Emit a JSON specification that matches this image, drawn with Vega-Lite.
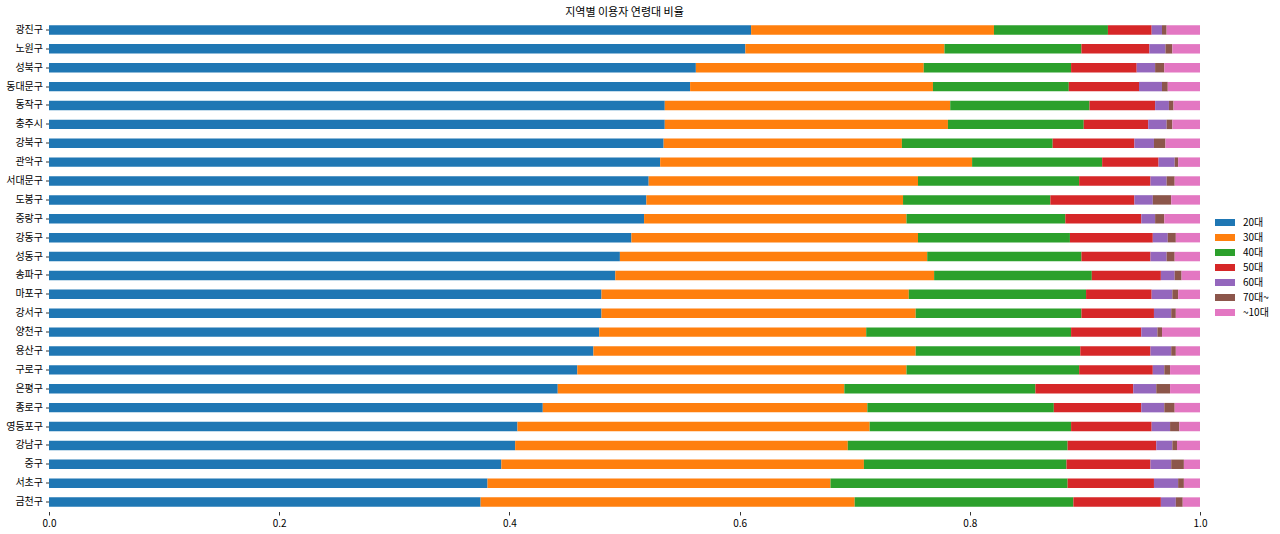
{
  "$schema": "https://vega.github.io/schema/vega-lite/v6.json",
  "autosize": "none",
  "padding": {"left": 49, "top": 20.5, "right": 80, "bottom": 22},
  "width": 1151,
  "height": 491,
  "background": "white",
  "title": {"text": "지역별 이용자 연령대 비율", "font": "Noto Sans CJK KR", "fontSize": 11, "fontWeight": "normal", "color": "#000000", "offset": 3},
  "config": {
    "view": {"stroke": null},
    "font": "Noto Sans CJK KR"
  },
  "data": {"values": [
    {"지역": "광진구", "연령대": "20대", "비율": 0.610}, {"지역": "광진구", "연령대": "30대", "비율": 0.211}, {"지역": "광진구", "연령대": "40대", "비율": 0.099}, {"지역": "광진구", "연령대": "50대", "비율": 0.038}, {"지역": "광진구", "연령대": "60대", "비율": 0.009}, {"지역": "광진구", "연령대": "70대~", "비율": 0.004}, {"지역": "광진구", "연령대": "~10대", "비율": 0.029},
    {"지역": "노원구", "연령대": "20대", "비율": 0.605}, {"지역": "노원구", "연령대": "30대", "비율": 0.173}, {"지역": "노원구", "연령대": "40대", "비율": 0.119}, {"지역": "노원구", "연령대": "50대", "비율": 0.059}, {"지역": "노원구", "연령대": "60대", "비율": 0.014}, {"지역": "노원구", "연령대": "70대~", "비율": 0.006}, {"지역": "노원구", "연령대": "~10대", "비율": 0.024},
    {"지역": "성북구", "연령대": "20대", "비율": 0.562}, {"지역": "성북구", "연령대": "30대", "비율": 0.198}, {"지역": "성북구", "연령대": "40대", "비율": 0.128}, {"지역": "성북구", "연령대": "50대", "비율": 0.057}, {"지역": "성북구", "연령대": "60대", "비율": 0.016}, {"지역": "성북구", "연령대": "70대~", "비율": 0.008}, {"지역": "성북구", "연령대": "~10대", "비율": 0.031},
    {"지역": "동대문구", "연령대": "20대", "비율": 0.557}, {"지역": "동대문구", "연령대": "30대", "비율": 0.211}, {"지역": "동대문구", "연령대": "40대", "비율": 0.118}, {"지역": "동대문구", "연령대": "50대", "비율": 0.061}, {"지역": "동대문구", "연령대": "60대", "비율": 0.020}, {"지역": "동대문구", "연령대": "70대~", "비율": 0.005}, {"지역": "동대문구", "연령대": "~10대", "비율": 0.028},
    {"지역": "동작구", "연령대": "20대", "비율": 0.535}, {"지역": "동작구", "연령대": "30대", "비율": 0.248}, {"지역": "동작구", "연령대": "40대", "비율": 0.121}, {"지역": "동작구", "연령대": "50대", "비율": 0.057}, {"지역": "동작구", "연령대": "60대", "비율": 0.012}, {"지역": "동작구", "연령대": "70대~", "비율": 0.004}, {"지역": "동작구", "연령대": "~10대", "비율": 0.023},
    {"지역": "충주시", "연령대": "20대", "비율": 0.535}, {"지역": "충주시", "연령대": "30대", "비율": 0.246}, {"지역": "충주시", "연령대": "40대", "비율": 0.118}, {"지역": "충주시", "연령대": "50대", "비율": 0.056}, {"지역": "충주시", "연령대": "60대", "비율": 0.016}, {"지역": "충주시", "연령대": "70대~", "비율": 0.005}, {"지역": "충주시", "연령대": "~10대", "비율": 0.024},
    {"지역": "강북구", "연령대": "20대", "비율": 0.534}, {"지역": "강북구", "연령대": "30대", "비율": 0.207}, {"지역": "강북구", "연령대": "40대", "비율": 0.131}, {"지역": "강북구", "연령대": "50대", "비율": 0.071}, {"지역": "강북구", "연령대": "60대", "비율": 0.017}, {"지역": "강북구", "연령대": "70대~", "비율": 0.010}, {"지역": "강북구", "연령대": "~10대", "비율": 0.030},
    {"지역": "관악구", "연령대": "20대", "비율": 0.531}, {"지역": "관악구", "연령대": "30대", "비율": 0.271}, {"지역": "관악구", "연령대": "40대", "비율": 0.113}, {"지역": "관악구", "연령대": "50대", "비율": 0.049}, {"지역": "관악구", "연령대": "60대", "비율": 0.014}, {"지역": "관악구", "연령대": "70대~", "비율": 0.003}, {"지역": "관악구", "연령대": "~10대", "비율": 0.019},
    {"지역": "서대문구", "연령대": "20대", "비율": 0.521}, {"지역": "서대문구", "연령대": "30대", "비율": 0.234}, {"지역": "서대문구", "연령대": "40대", "비율": 0.140}, {"지역": "서대문구", "연령대": "50대", "비율": 0.062}, {"지역": "서대문구", "연령대": "60대", "비율": 0.014}, {"지역": "서대문구", "연령대": "70대~", "비율": 0.007}, {"지역": "서대문구", "연령대": "~10대", "비율": 0.022},
    {"지역": "도봉구", "연령대": "20대", "비율": 0.519}, {"지역": "도봉구", "연령대": "30대", "비율": 0.223}, {"지역": "도봉구", "연령대": "40대", "비율": 0.128}, {"지역": "도봉구", "연령대": "50대", "비율": 0.073}, {"지역": "도봉구", "연령대": "60대", "비율": 0.016}, {"지역": "도봉구", "연령대": "70대~", "비율": 0.016}, {"지역": "도봉구", "연령대": "~10대", "비율": 0.025},
    {"지역": "중랑구", "연령대": "20대", "비율": 0.517}, {"지역": "중랑구", "연령대": "30대", "비율": 0.228}, {"지역": "중랑구", "연령대": "40대", "비율": 0.138}, {"지역": "중랑구", "연령대": "50대", "비율": 0.066}, {"지역": "중랑구", "연령대": "60대", "비율": 0.012}, {"지역": "중랑구", "연령대": "70대~", "비율": 0.008}, {"지역": "중랑구", "연령대": "~10대", "비율": 0.031},
    {"지역": "강동구", "연령대": "20대", "비율": 0.506}, {"지역": "강동구", "연령대": "30대", "비율": 0.249}, {"지역": "강동구", "연령대": "40대", "비율": 0.132}, {"지역": "강동구", "연령대": "50대", "비율": 0.072}, {"지역": "강동구", "연령대": "60대", "비율": 0.013}, {"지역": "강동구", "연령대": "70대~", "비율": 0.007}, {"지역": "강동구", "연령대": "~10대", "비율": 0.021},
    {"지역": "성동구", "연령대": "20대", "비율": 0.496}, {"지역": "성동구", "연령대": "30대", "비율": 0.267}, {"지역": "성동구", "연령대": "40대", "비율": 0.134}, {"지역": "성동구", "연령대": "50대", "비율": 0.060}, {"지역": "성동구", "연령대": "60대", "비율": 0.014}, {"지역": "성동구", "연령대": "70대~", "비율": 0.007}, {"지역": "성동구", "연령대": "~10대", "비율": 0.022},
    {"지역": "송파구", "연령대": "20대", "비율": 0.492}, {"지역": "송파구", "연령대": "30대", "비율": 0.277}, {"지역": "송파구", "연령대": "40대", "비율": 0.137}, {"지역": "송파구", "연령대": "50대", "비율": 0.060}, {"지역": "송파구", "연령대": "60대", "비율": 0.012}, {"지역": "송파구", "연령대": "70대~", "비율": 0.006}, {"지역": "송파구", "연령대": "~10대", "비율": 0.016},
    {"지역": "마포구", "연령대": "20대", "비율": 0.480}, {"지역": "마포구", "연령대": "30대", "비율": 0.267}, {"지역": "마포구", "연령대": "40대", "비율": 0.154}, {"지역": "마포구", "연령대": "50대", "비율": 0.057}, {"지역": "마포구", "연령대": "60대", "비율": 0.018}, {"지역": "마포구", "연령대": "70대~", "비율": 0.005}, {"지역": "마포구", "연령대": "~10대", "비율": 0.019},
    {"지역": "강서구", "연령대": "20대", "비율": 0.480}, {"지역": "강서구", "연령대": "30대", "비율": 0.273}, {"지역": "강서구", "연령대": "40대", "비율": 0.144}, {"지역": "강서구", "연령대": "50대", "비율": 0.063}, {"지역": "강서구", "연령대": "60대", "비율": 0.015}, {"지역": "강서구", "연령대": "70대~", "비율": 0.004}, {"지역": "강서구", "연령대": "~10대", "비율": 0.021},
    {"지역": "양천구", "연령대": "20대", "비율": 0.478}, {"지역": "양천구", "연령대": "30대", "비율": 0.232}, {"지역": "양천구", "연령대": "40대", "비율": 0.178}, {"지역": "양천구", "연령대": "50대", "비율": 0.061}, {"지역": "양천구", "연령대": "60대", "비율": 0.014}, {"지역": "양천구", "연령대": "70대~", "비율": 0.004}, {"지역": "양천구", "연령대": "~10대", "비율": 0.033},
    {"지역": "용산구", "연령대": "20대", "비율": 0.473}, {"지역": "용산구", "연령대": "30대", "비율": 0.280}, {"지역": "용산구", "연령대": "40대", "비율": 0.143}, {"지역": "용산구", "연령대": "50대", "비율": 0.061}, {"지역": "용산구", "연령대": "60대", "비율": 0.018}, {"지역": "용산구", "연령대": "70대~", "비율": 0.004}, {"지역": "용산구", "연령대": "~10대", "비율": 0.021},
    {"지역": "구로구", "연령대": "20대", "비율": 0.459}, {"지역": "구로구", "연령대": "30대", "비율": 0.286}, {"지역": "구로구", "연령대": "40대", "비율": 0.150}, {"지역": "구로구", "연령대": "50대", "비율": 0.064}, {"지역": "구로구", "연령대": "60대", "비율": 0.010}, {"지역": "구로구", "연령대": "70대~", "비율": 0.005}, {"지역": "구로구", "연령대": "~10대", "비율": 0.026},
    {"지역": "은평구", "연령대": "20대", "비율": 0.442}, {"지역": "은평구", "연령대": "30대", "비율": 0.249}, {"지역": "은평구", "연령대": "40대", "비율": 0.166}, {"지역": "은평구", "연령대": "50대", "비율": 0.085}, {"지역": "은평구", "연령대": "60대", "비율": 0.020}, {"지역": "은평구", "연령대": "70대~", "비율": 0.012}, {"지역": "은평구", "연령대": "~10대", "비율": 0.026},
    {"지역": "종로구", "연령대": "20대", "비율": 0.429}, {"지역": "종로구", "연령대": "30대", "비율": 0.282}, {"지역": "종로구", "연령대": "40대", "비율": 0.162}, {"지역": "종로구", "연령대": "50대", "비율": 0.076}, {"지역": "종로구", "연령대": "60대", "비율": 0.020}, {"지역": "종로구", "연령대": "70대~", "비율": 0.009}, {"지역": "종로구", "연령대": "~10대", "비율": 0.022},
    {"지역": "영등포구", "연령대": "20대", "비율": 0.407}, {"지역": "영등포구", "연령대": "30대", "비율": 0.306}, {"지역": "영등포구", "연령대": "40대", "비율": 0.175}, {"지역": "영등포구", "연령대": "50대", "비율": 0.070}, {"지역": "영등포구", "연령대": "60대", "비율": 0.016}, {"지역": "영등포구", "연령대": "70대~", "비율": 0.008}, {"지역": "영등포구", "연령대": "~10대", "비율": 0.018},
    {"지역": "강남구", "연령대": "20대", "비율": 0.405}, {"지역": "강남구", "연령대": "30대", "비율": 0.289}, {"지역": "강남구", "연령대": "40대", "비율": 0.191}, {"지역": "강남구", "연령대": "50대", "비율": 0.077}, {"지역": "강남구", "연령대": "60대", "비율": 0.014}, {"지역": "강남구", "연령대": "70대~", "비율": 0.004}, {"지역": "강남구", "연령대": "~10대", "비율": 0.020},
    {"지역": "중구", "연령대": "20대", "비율": 0.393}, {"지역": "중구", "연령대": "30대", "비율": 0.315}, {"지역": "중구", "연령대": "40대", "비율": 0.176}, {"지역": "중구", "연령대": "50대", "비율": 0.073}, {"지역": "중구", "연령대": "60대", "비율": 0.018}, {"지역": "중구", "연령대": "70대~", "비율": 0.011}, {"지역": "중구", "연령대": "~10대", "비율": 0.014},
    {"지역": "서초구", "연령대": "20대", "비율": 0.381}, {"지역": "서초구", "연령대": "30대", "비율": 0.298}, {"지역": "서초구", "연령대": "40대", "비율": 0.206}, {"지역": "서초구", "연령대": "50대", "비율": 0.075}, {"지역": "서초구", "연령대": "60대", "비율": 0.021}, {"지역": "서초구", "연령대": "70대~", "비율": 0.005}, {"지역": "서초구", "연령대": "~10대", "비율": 0.014},
    {"지역": "금천구", "연령대": "20대", "비율": 0.375}, {"지역": "금천구", "연령대": "30대", "비율": 0.325}, {"지역": "금천구", "연령대": "40대", "비율": 0.190}, {"지역": "금천구", "연령대": "50대", "비율": 0.076}, {"지역": "금천구", "연령대": "60대", "비율": 0.013}, {"지역": "금천구", "연령대": "70대~", "비율": 0.006}, {"지역": "금천구", "연령대": "~10대", "비율": 0.015}
  ]},
  "mark": {"type": "bar"},
  "encoding": {
    "y": {
      "field": "지역", "type": "nominal", "sort": null,
      "scale": {"paddingInner": 0.5, "paddingOuter": 0.25},
      "axis": {"title": null, "domain": false, "ticks": true, "tickSize": 3.5, "tickColor": "#000000", "tickWidth": 0.8, "labelFontSize": 10, "labelColor": "#000000", "labelPadding": 3, "labelFont": "Noto Sans CJK KR", "grid": false}
    },
    "x": {
      "field": "비율", "type": "quantitative", "stack": "zero",
      "scale": {"domain": [0, 1], "nice": false, "zero": true},
      "axis": {"title": null, "domain": false, "grid": false, "values": [0, 0.2, 0.4, 0.6, 0.8, 1.0], "format": ".1f", "tickSize": 3.5, "tickColor": "#000000", "tickWidth": 0.8, "labelFontSize": 10, "labelColor": "#000000", "labelPadding": 3, "labelFont": "Noto Sans CJK KR", "labelFlush": false}
    },
    "color": {
      "field": "연령대", "type": "nominal",
      "scale": {"domain": ["20대", "30대", "40대", "50대", "60대", "70대~", "~10대"], "range": ["#1f77b4", "#ff7f0e", "#2ca02c", "#d62728", "#9467bd", "#8c564b", "#e377c2"]},
      "legend": {"title": null, "orient": "none", "legendX": 1166, "legendY": 192, "symbolType": "M-1,-0.35H1V0.35H-1Z", "symbolSize": 400, "symbolStrokeWidth": 0, "labelFontSize": 10, "labelColor": "#000000", "labelFont": "Noto Sans CJK KR", "rowPadding": 0, "labelOffset": 8}
    }
  }
}
